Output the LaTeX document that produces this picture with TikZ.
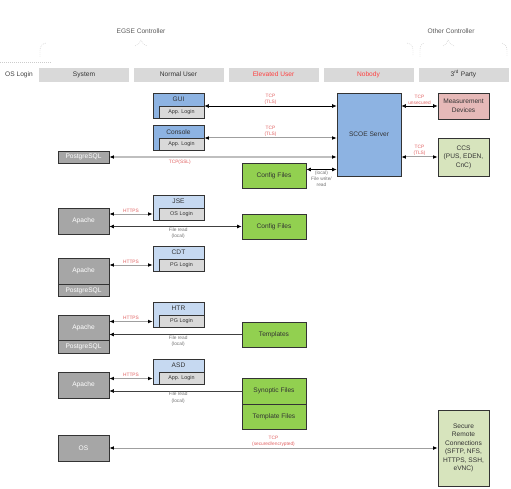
\documentclass[tikz,border=0pt]{standalone}
\usepackage{fontspec}
\setmainfont{Liberation Sans}
\usetikzlibrary{arrows.meta}

\definecolor{scoeblue}{HTML}{8DB3E2}
\definecolor{toolblue}{HTML}{C6D9F1}
\definecolor{logingray}{HTML}{D9D9D9}
\definecolor{apachegray}{HTML}{A6A6A6}
\definecolor{filegreen}{HTML}{92D050}
\definecolor{extgreen}{HTML}{D7E4BD}
\definecolor{measpink}{HTML}{E6B9B8}
\definecolor{labelred}{HTML}{E06060}
\definecolor{headred}{HTML}{FF4040}
\definecolor{textgray}{HTML}{333333}

\tikzset{
  box/.style={draw=black!80, line width=0.7pt, inner sep=0pt, text=textgray, align=center, font=\fontsize{6.6}{8.5}\selectfont},
  server/.style={box, fill=scoeblue},
  tool/.style={box, fill=toolblue, minimum width=51pt, minimum height=25pt},
  tooltitle/.style={inner sep=0pt, text=textgray, font=\fontsize{6.6}{8}\selectfont},
  login/.style={box, fill=logingray, minimum width=45pt, minimum height=12pt, anchor=south east, font=\fontsize{5.4}{6}\selectfont},
  apache/.style={box, fill=apachegray, text=white, minimum width=51pt},
  files/.style={box, fill=filegreen, minimum width=64pt, minimum height=25pt},
  extern/.style={box, fill=extgreen, minimum width=51pt},
  head/.style={fill=logingray, draw=gray!30, line width=0.4pt, minimum width=89pt, minimum height=13pt, inner sep=0pt, text=textgray, font=\fontsize{6.6}{8}\selectfont},
  ctrl/.style={inner sep=0pt, text=black!65, font=\fontsize{6.6}{8}\selectfont},
  brace/.style={draw=gray!40, dashed, dash pattern=on 1pt off 1pt, line width=0.4pt},
  >={Latex[length=4.5pt,width=3.8pt,color=black]},
  link/.style={<->, line width=0.6pt, draw=black},
  grayline/.style={<->, line width=1pt, draw=gray!75},
  thickline/.style={<->, line width=1.6pt, draw=gray!50},
  elabel/.style={inner sep=1pt, align=center, text=labelred, font=\fontsize{4.8}{6}\selectfont},
  flabel/.style={inner sep=1pt, align=center, text=black!55, font=\fontsize{4.8}{6.3}\selectfont}
}

\begin{document}
\begin{tikzpicture}[x=1pt, y=-1pt]
  \useasboundingbox (0,0) rectangle (511,489);

  \draw[brace] (0,62) -- (52,62);
  \draw[brace] (40,57) -- (40,49) .. controls (40,46) and (42,44) .. (46,43)
    (135,46) .. controls (138,45) and (140,43) .. (141,40) .. controls (142,43) and (144,45) .. (147,46)
    (407,43) .. controls (411,44) and (413,46) .. (413,50) -- (413,56);
  \draw[brace] (420,57) -- (420,49) .. controls (420,46) and (421,44) .. (424,43)
    (443,46) .. controls (446,45) and (447,43) .. (448,40) .. controls (449,43) and (451,45) .. (454,46)
    (502,43) .. controls (505,44) and (507,46) .. (507,50) -- (507,56);
  \node[ctrl] (egse) at (141,31) {EGSE Controller};
  \node[ctrl] (other) at (451,31) {Other Controller};

  \node[ctrl, text=black!75] (oslogin) at (19,74.5) {OS Login};
  \node[head] (system) at (84,74.5) {System};
  \node[head] (normal) at (178.5,74.5) {Normal User};
  \node[head, text=headred] (elevated) at (273.5,74.5) {Elevated User};
  \node[head, text=headred] (nobody) at (368.5,74.5) {Nobody};
  \node[head] (third) at (463.5,74.5) {3\textsuperscript{rd} Party};

  \node[server, minimum width=64pt, minimum height=83pt] (scoe) at (369,134.5) {SCOE Server};
  \node[box, fill=measpink, minimum width=51pt, minimum height=26pt] (meas) at (463.5,106) {Measurement\\Devices};
  \node[extern, minimum height=38pt] (ccs) at (463.5,157) {CCS\\(PUS, EDEN,\\CnC)};

  \node[tool, fill=scoeblue] (gui) at (178.5,106) {};
  \node[tooltitle] at ([yshift=-6.5pt]gui.north) {GUI};
  \node[login] (guilogin) at (gui.south east) {App. Login};
  \node[tool, fill=scoeblue] (console) at (178.5,138) {};
  \node[tooltitle] at ([yshift=-6.5pt]console.north) {Console};
  \node[login] (consolelogin) at (console.south east) {App. Login};
  \node[apache, minimum height=12pt] (pgtop) at (83.5,157) {PostgreSQL};
  \node[files] (config1) at (274,175.5) {Config Files};

  \draw[link] (gui.east) -- (gui.east -| scoe.west) node[elabel, midway, above] {TCP\\(TLS)};
  \draw[grayline] (console.east) -- (console.east -| scoe.west) node[elabel, midway, above] {TCP\\(TLS)};
  \draw[thickline] (pgtop.east) -- (pgtop.east -| scoe.west) node[elabel, pos=0.31, below=1.5pt] {TCP(SSL)};
  \draw[link] ([yshift=6pt]config1.east) -- ([yshift=6pt]config1.east -| scoe.west) node[flabel, midway, below] {(local)\\File write/\\read};
  \draw[link] (meas.west) -- (meas.west -| scoe.east) node[elabel, midway, above] {TCP\\unsecured};
  \draw[grayline] (ccs.west) -- (ccs.west -| scoe.east) node[elabel, midway, above] {TCP\\(TLS)};

  \node[tool] (jse) at (178.5,207.5) {};
  \node[tooltitle] at ([yshift=-6.5pt]jse.north) {JSE};
  \node[login] (jselogin) at (jse.south east) {OS Login};
  \node[apache, minimum height=26pt] (apache1) at (83.5,221) {Apache};
  \node[files] (config2) at (274,226.5) {Config Files};
  \draw[grayline] (apache1.east |- jselogin.west) -- (jse.west |- jselogin.west) node[elabel, midway, above] {HTTPS};
  \draw[link, draw=black!75] (apache1.east |- config2.west) -- (config2.west) node[flabel, pos=0.52, below] {File read\\(local)};

  \node[tool] (cdt) at (178.5,258.5) {};
  \node[tooltitle] at ([yshift=-6.5pt]cdt.north) {CDT};
  \node[login] (cdtlogin) at (cdt.south east) {PG Login};
  \node[apache, minimum height=26pt] (apache2) at (83.5,271) {Apache};
  \node[apache, minimum height=12pt, anchor=north] (pg2) at (apache2.south) {PostgreSQL};
  \draw[grayline] (apache2.east |- cdtlogin.west) -- (cdt.west |- cdtlogin.west) node[elabel, midway, above] {HTTPS};

  \node[tool] (htr) at (178.5,315) {};
  \node[tooltitle] at ([yshift=-6.5pt]htr.north) {HTR};
  \node[login] (htrlogin) at (htr.south east) {PG Login};
  \node[apache, minimum height=25pt] (apache3) at (83.5,327.5) {Apache};
  \node[apache, minimum height=13pt, anchor=north] (pg3) at (apache3.south) {PostgreSQL};
  \node[files] (templates) at (274,334.5) {Templates};
  \draw[grayline] (apache3.east |- htrlogin.west) -- (htr.west |- htrlogin.west) node[elabel, midway, above] {HTTPS};
  \draw[->, line width=0.6pt, draw=black!75] (templates.west) -- (templates.west -| apache3.east) node[flabel, pos=0.48, below] {File read\\(local)};

  \node[tool] (asd) at (178.5,372) {};
  \node[tooltitle] at ([yshift=-6.5pt]asd.north) {ASD};
  \node[login] (asdlogin) at (asd.south east) {App. Login};
  \node[apache, minimum height=26pt] (apache4) at (83.5,385) {Apache};
  \node[files, minimum height=26pt] (synoptic) at (274,391) {Synoptic Files};
  \node[files, anchor=north] (templatefiles) at (synoptic.south) {Template Files};
  \draw[grayline] (apache4.east |- asdlogin.west) -- (asd.west |- asdlogin.west) node[elabel, midway, above] {HTTPS};
  \draw[->, line width=0.6pt, draw=black!75] (synoptic.west) -- (synoptic.west -| apache4.east) node[flabel, pos=0.48, below] {File read\\(local)};

  \node[apache, minimum height=26pt] (os) at (83.5,448) {OS};
  \node[extern, minimum height=76pt] (secure) at (463.5,448) {Secure\\Remote\\Connections\\(SFTP, NFS,\\HTTPS, SSH,\\eVNC)};
  \draw[grayline] (os.east) -- (os.east -| secure.west) node[elabel, midway, above] {TCP\\(secured/encrypted)};
\end{tikzpicture}
\end{document}
